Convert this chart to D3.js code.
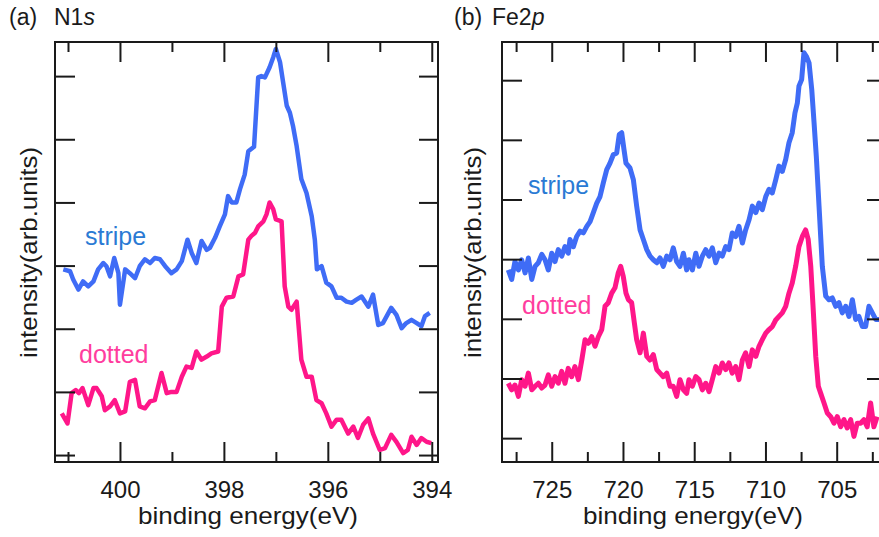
<!DOCTYPE html>
<html>
<head>
<meta charset="utf-8">
<script src="https://cdn.jsdelivr.net/npm/d3@7"></script>
<style>
  body { margin: 0; background: #fff; }
  svg { display: block; }
  text { font-family: "Liberation Sans", Arial, sans-serif; fill: #1a1a1a; }
</style>
</head>
<body>
<svg id="chart"></svg>
<script>
// N1s spectra (binding energy in eV, intensity in arb. units)
const n1sStripeE = [401.09, 400.96, 400.90, 400.80, 400.71, 400.61, 400.51, 400.42, 400.32, 400.26, 400.19, 400.11, 400.03, 400.00,
  399.90, 399.81, 399.71, 399.62, 399.52, 399.42, 399.33, 399.23, 399.13, 399.01,
  398.91, 398.81, 398.70, 398.62, 398.53, 398.43, 398.33, 398.27, 398.17, 398.08,
  397.98, 397.92, 397.85, 397.76, 397.69, 397.60, 397.53, 397.42, 397.34, 397.28, 397.21, 397.12, 397.05, 397.00,
  396.92, 396.86, 396.79, 396.73, 396.67, 396.60, 396.51, 396.41, 396.31, 396.25, 396.21, 396.12, 396.03,
  395.93, 395.83, 395.74, 395.64, 395.54, 395.45, 395.35, 395.22, 395.13, 395.03,
  394.94, 394.78, 394.68, 394.58, 394.49, 394.39, 394.29, 394.20, 394.13, 394.04];
const n1sStripe = [2.94, 2.91, 2.78, 2.62, 2.75, 2.67, 2.75, 2.94, 3.04, 2.99, 2.83, 3.12, 2.88, 2.38,
  2.94, 2.88, 2.80, 2.99, 3.10, 3.04, 3.12, 3.10, 2.99, 2.88,
  2.94, 3.07, 3.41, 3.20, 3.04, 3.39, 3.25, 3.28, 3.44, 3.62,
  3.81, 4.10, 4.00, 4.00, 4.21, 4.44, 4.81, 4.88, 5.98, 6.00, 5.98, 6.14, 6.30, 6.43,
  6.22, 5.90, 5.53, 5.42, 5.21, 4.89, 4.37, 4.15, 3.78, 3.41, 2.94, 2.99, 2.73,
  2.67, 2.49, 2.49, 2.43, 2.41, 2.46, 2.51, 2.35, 2.54, 2.06,
  2.09, 2.33, 2.22, 2.01, 2.09, 2.14, 2.09, 2.04, 2.20, 2.25];

const n1sDottedE = [401.12, 401.01, 400.93, 400.85, 400.79, 400.72, 400.61, 400.51, 400.45, 400.35, 400.29, 400.19, 400.10, 400.00,
  399.90, 399.81, 399.71, 399.62, 399.52, 399.42, 399.33, 399.20, 399.10, 399.01,
  398.91, 398.81, 398.72, 398.62, 398.53, 398.43, 398.33, 398.24, 398.11, 398.04,
  397.95, 397.82, 397.72, 397.63, 397.53, 397.47, 397.40, 397.34, 397.24, 397.18, 397.12, 397.05, 397.00,
  396.89, 396.83, 396.76, 396.70, 396.60, 396.51, 396.41, 396.31, 396.22, 396.12, 396.03,
  395.93, 395.83, 395.74, 395.61, 395.51, 395.42, 395.32, 395.22, 395.13, 395.00,
  394.90, 394.78, 394.68, 394.55, 394.46, 394.39, 394.29, 394.20, 394.10, 394.01];
const n1sDotted = [0.66, 0.50, 0.98, 1.03, 0.98, 1.06, 0.79, 1.06, 1.06, 0.93, 0.71, 0.77, 0.87, 0.66,
  0.69, 1.16, 1.19, 0.77, 0.74, 0.85, 0.87, 1.30, 0.98, 1.00,
  1.00, 1.24, 1.40, 1.38, 1.64, 1.51, 1.56, 1.61, 1.64, 2.35,
  2.49, 2.51, 2.83, 2.86, 3.41, 3.47, 3.52, 3.62, 3.70, 3.81, 4.00, 3.89, 3.73,
  3.70, 2.67, 2.35, 2.30, 2.43, 1.51, 1.24, 1.24, 0.87, 0.82, 0.66,
  0.45, 0.56, 0.56, 0.34, 0.45, 0.27, 0.48, 0.58, 0.34, 0.08,
  0.11, 0.32, 0.21, 0.03, 0.08, 0.29, 0.16, 0.27, 0.21, 0.19];

// Fe2p spectra
const fe2pStripeE = [728.05, 727.81, 727.58, 727.34, 727.11, 726.87, 726.64, 726.40, 726.17, 725.94,
  725.70, 725.47, 725.24, 725.00, 724.77, 724.54, 724.30, 724.07, 723.84, 723.72,
  723.48, 723.25, 723.01, 722.78, 722.54, 722.31, 722.08, 721.84, 721.61, 721.38,
  721.14, 720.91, 720.68, 720.44, 720.26, 720.09, 719.93, 719.79, 719.51, 719.27,
  719.04, 718.80, 718.57, 718.33, 718.10, 717.87, 717.63, 717.40, 717.17, 716.93,
  716.70, 716.47, 716.23, 716.00, 715.76, 715.53,
  715.37, 715.13, 714.89, 714.66, 714.43, 714.19, 713.96, 713.73, 713.49, 713.26,
  713.03, 712.79, 712.56, 712.33, 712.09, 711.86, 711.62, 711.39, 711.15, 710.92,
  710.68, 710.45, 710.22, 709.98, 709.75, 709.52, 709.28, 709.05, 708.82, 708.58,
  708.35, 708.12, 707.93, 707.76, 707.65, 707.46, 707.30, 707.13, 706.94, 706.75,
  706.59, 706.43, 706.24, 706.01, 705.77, 705.54, 705.31, 705.07, 704.84, 704.61,
  704.37, 704.14, 703.90, 703.67, 703.44, 703.20, 702.97, 702.74, 702.50, 702.26, 702.03];
const fe2pStripe = [2.82, 2.66, 2.96, 2.82, 2.99, 2.77, 3.02, 2.66, 2.88, 2.94,
  3.08, 2.99, 2.82, 3.10, 2.96, 3.16, 3.05, 3.21, 3.10, 3.33,
  3.21, 3.38, 3.47, 3.44, 3.55, 3.63, 3.78, 3.94, 4.05, 4.28,
  4.50, 4.61, 4.75, 4.78, 5.09, 5.12, 4.84, 4.61, 4.53, 4.33,
  3.89, 3.49, 3.33, 3.16, 3.05, 2.99, 2.94, 3.02, 2.88, 3.05,
  2.99, 3.19, 2.96, 2.88, 3.10, 2.82,
  2.99, 2.82, 3.10, 2.88, 3.05, 3.16, 3.05, 3.19, 2.94, 3.10,
  3.05, 3.21, 3.16, 3.44, 3.38, 3.55, 3.27, 3.49, 3.66, 3.89,
  3.78, 3.94, 3.83, 4.05, 4.17, 4.11, 4.33, 4.56, 4.47, 4.67,
  4.95, 5.12, 5.45, 5.62, 5.90, 6.01, 6.46, 6.40, 6.29, 5.84,
  5.29, 4.72, 3.89, 2.88, 2.38, 2.32, 2.35, 2.21, 2.27, 2.10,
  2.21, 2.04, 2.32, 1.99, 2.04, 1.87, 1.87, 2.21, 2.10, 1.99, 1.99];

const fe2pDottedE = [728.05, 727.81, 727.58, 727.34, 727.11, 726.87, 726.64, 726.40, 726.17, 725.94,
  725.70, 725.47, 725.24, 725.00, 724.77, 724.54, 724.30, 724.07, 723.84, 723.60,
  723.37, 723.13, 722.89, 722.66, 722.43, 722.19, 721.96, 721.73, 721.49, 721.26,
  721.03, 720.79, 720.56, 720.33, 720.16, 719.98, 719.79, 719.62, 719.39, 719.20,
  719.04, 718.80, 718.57, 718.33, 718.10, 717.87, 717.63, 717.40, 717.17, 716.93,
  716.70, 716.47, 716.23, 716.00, 715.76, 715.53,
  715.37, 715.13, 714.89, 714.66, 714.43, 714.19, 713.96, 713.73, 713.49, 713.26,
  713.03, 712.79, 712.56, 712.33, 712.09, 711.86, 711.62, 711.39, 711.15, 710.92,
  710.68, 710.45, 710.22, 709.98, 709.75, 709.52, 709.28, 709.05, 708.82, 708.58,
  708.35, 708.12, 707.88, 707.65, 707.41, 707.18, 707.00, 706.82, 706.66, 706.47,
  706.29, 706.12, 705.89, 705.66, 705.42, 705.19, 704.96, 704.72, 704.49, 704.26,
  704.02, 703.79, 703.56, 703.32, 703.09, 702.86, 702.62, 702.39, 702.16];
const fe2pDotted = [0.92, 0.81, 0.89, 0.70, 0.98, 0.87, 1.09, 0.81, 0.87, 0.92,
  0.84, 0.89, 1.06, 0.87, 1.03, 0.92, 1.12, 0.92, 1.17, 1.03,
  1.20, 0.98, 1.31, 1.65, 1.59, 1.70, 1.54, 1.70, 1.82, 2.21,
  2.27, 2.43, 2.52, 2.77, 2.88, 2.71, 2.43, 2.32, 2.27, 1.93,
  1.65, 1.43, 1.76, 1.37, 1.31, 1.40, 1.15, 1.09, 1.03, 1.09,
  0.87, 0.87, 0.70, 0.98, 0.81, 0.75,
  0.98, 0.87, 1.03, 0.98, 0.81, 0.92, 0.78, 0.98, 1.20, 1.09,
  1.26, 1.15, 1.26, 1.09, 1.20, 0.98, 1.31, 1.43, 1.20, 1.48,
  1.37, 1.54, 1.65, 1.76, 1.82, 1.87, 1.98, 2.04, 2.10, 2.21,
  2.43, 2.60, 2.88, 3.21, 3.38, 3.49, 3.33, 2.88, 2.21, 1.37,
  0.87, 0.75, 0.59, 0.42, 0.36, 0.25, 0.36, 0.19, 0.31, 0.17,
  0.31, 0.03, 0.25, 0.25, 0.31, 0.19, 0.59, 0.19, 0.36];

const n1sMajorTicks = [400, 398, 396, 394];
const n1sMinorTicks = [401, 399, 397, 395];
const fe2pMajorTicks = [725, 720, 715, 710, 705];
const fe2pMinorTicks = [727.5, 722.5, 717.5, 712.5, 707.5, 702.5];
const yTickValues = [0, 1, 2, 3, 4, 5, 6];

const width = 879;
const height = 537;
const plotTop = 42;
const plotBottom = 462;
const blue = "#3f6cf6";
const pink = "#ff1689";

const svg = d3.select("#chart")
    .attr("width", width)
    .attr("height", height);

svg.append("rect").attr("width", width).attr("height", height).attr("fill", "#fff");

function zip(xs, ys) {
    return xs.map((v, i) => [v, ys[i]]);
}

function drawPanel(p) {
    const x = d3.scaleLinear().domain(p.xDomain).range([p.left, p.right]);
    const y = d3.scaleLinear().domain(p.yDomain).range([plotBottom, plotTop]);
    const g = svg.append("g");

    g.append("clipPath").attr("id", p.id + "-clip")
        .append("rect")
        .attr("x", p.left).attr("y", plotTop)
        .attr("width", p.right - p.left).attr("height", plotBottom - plotTop);

    const line = d3.line().x(d => x(d[0])).y(d => y(d[1]));

    g.append("g").attr("clip-path", `url(#${p.id}-clip)`)
        .selectAll("path")
        .data(p.series)
        .enter()
        .append("path")
        .attr("d", d => line(d.values))
        .attr("fill", "none")
        .attr("stroke", d => d.color)
        .attr("stroke-width", p.lineWidth)
        .attr("stroke-linejoin", "round");

    const axes = [
        { axis: d3.axisBottom(x).tickValues(p.major).tickSize(-20).tickPadding(19).tickFormat(d3.format("d")), t: `translate(0,${plotBottom})` },
        { axis: d3.axisBottom(x).tickValues(p.minor).tickSize(-10).tickFormat(""), t: `translate(0,${plotBottom})` },
        { axis: d3.axisTop(x).tickValues(p.major).tickSize(-20).tickFormat(""), t: `translate(0,${plotTop})` },
        { axis: d3.axisTop(x).tickValues(p.minor).tickSize(-10).tickFormat(""), t: `translate(0,${plotTop})` },
        { axis: d3.axisLeft(y).tickValues(yTickValues).tickSize(-20).tickFormat(""), t: `translate(${p.left},0)` },
        { axis: d3.axisRight(y).tickValues(yTickValues).tickSize(-19).tickFormat(""), t: `translate(${p.right},0)` }
    ];
    axes.forEach(a => {
        const ag = g.append("g").attr("transform", a.t).call(a.axis);
        ag.select(".domain").remove();
        ag.selectAll("line").attr("stroke", "#1a1a1a").attr("stroke-width", 2);
        ag.selectAll("text")
            .attr("font-size", 24)
            .attr("font-family", "'Liberation Sans', Arial, sans-serif")
            .attr("fill", "#1a1a1a");
    });

    g.append("rect")
        .attr("x", p.left).attr("y", plotTop)
        .attr("width", p.right - p.left).attr("height", plotBottom - plotTop)
        .attr("fill", "none")
        .attr("stroke", "#1a1a1a")
        .attr("stroke-width", 2);

    // series labels
    p.labels.forEach(l => {
        g.append("text")
            .attr("x", l.x).attr("y", l.y)
            .attr("font-size", 25)
            .style("fill", l.color)
            .text(l.text);
    });

    // axis titles
    g.append("text")
        .attr("x", p.xLabelX).attr("y", 524)
        .attr("font-size", 24)
        .attr("textLength", 220)
        .attr("lengthAdjust", "spacingAndGlyphs")
        .text("binding energy(eV)");

    g.append("text")
        .attr("transform", `translate(${p.yLabelX},358) rotate(-90)`)
        .attr("font-size", 24)
        .attr("textLength", 211)
        .attr("lengthAdjust", "spacingAndGlyphs")
        .text("intensity(arb.units)");

    const title = g.append("text").attr("y", 25).attr("font-size", 23);
    title.append("tspan").attr("x", p.titleX).text(p.tag);
    title.append("tspan").attr("x", p.nameX).text(p.name);
    title.append("tspan").attr("font-style", "italic").text(p.orbital);
}

drawPanel({
    id: "n1s",
    left: 55, right: 438,
    xDomain: [401.25, 393.88],
    yDomain: [-0.11, 6.54],
    major: n1sMajorTicks, minor: n1sMinorTicks,
    lineWidth: 4.5,
    series: [
        { color: blue, values: zip(n1sStripeE, n1sStripe) },
        { color: pink, values: zip(n1sDottedE, n1sDotted) }
    ],
    labels: [
        { text: "stripe", x: 85, y: 245, color: "#2a7ad4" },
        { text: "dotted", x: 79, y: 363, color: "#ff3d9e" }
    ],
    xLabelX: 138, yLabelX: 37,
    titleX: 9, nameX: 54, tag: "(a)", name: "N1", orbital: "s"
});

drawPanel({
    id: "fe2p",
    left: 502, right: 886,
    xDomain: [728.49, 701.54],
    yDomain: [-0.40, 6.64],
    major: fe2pMajorTicks, minor: fe2pMinorTicks,
    lineWidth: 5,
    series: [
        { color: blue, values: zip(fe2pStripeE, fe2pStripe) },
        { color: pink, values: zip(fe2pDottedE, fe2pDotted) }
    ],
    labels: [
        { text: "stripe", x: 528, y: 194, color: "#2a7ad4" },
        { text: "dotted", x: 522, y: 314, color: "#ff3d9e" }
    ],
    xLabelX: 583, yLabelX: 481,
    titleX: 454, nameX: 492, tag: "(b)", name: "Fe2", orbital: "p"
});
</script>
</body>
</html>
